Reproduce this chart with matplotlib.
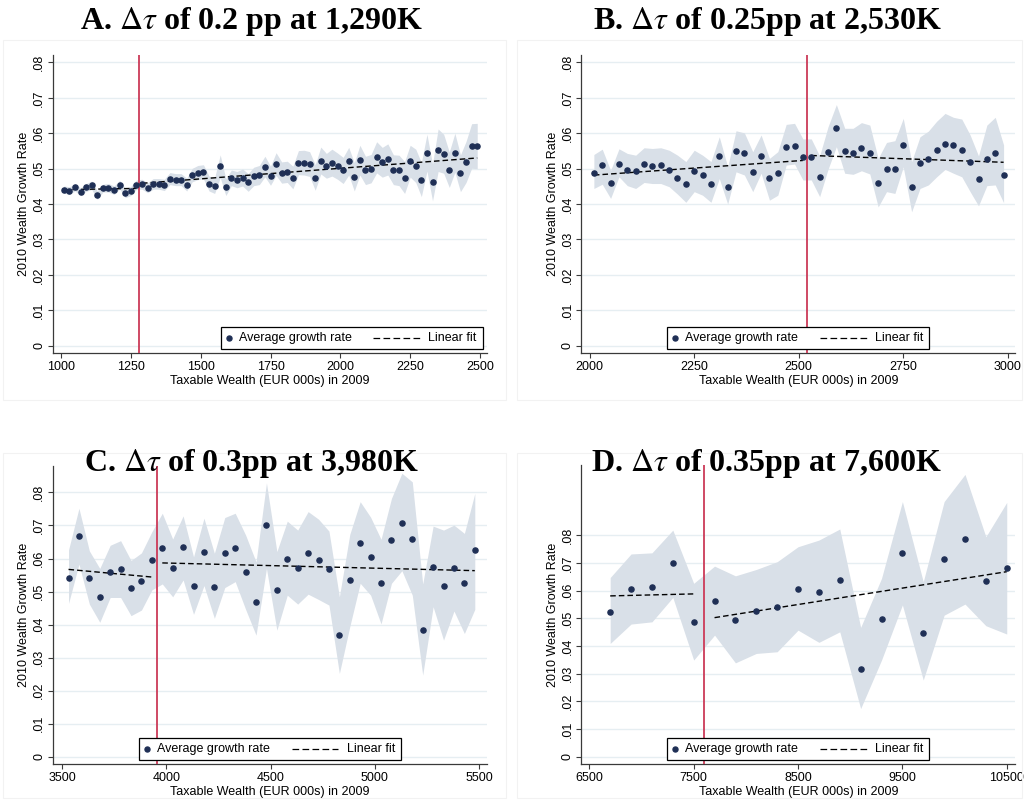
import numpy as np
import matplotlib
matplotlib.use('Agg')
import matplotlib.pyplot as plt
from matplotlib.offsetbox import AnchoredOffsetbox, HPacker, DrawingArea, TextArea
from matplotlib.lines import Line2D
from matplotlib.patches import Rectangle

plt.rcParams['font.family'] = ['Liberation Sans', 'DejaVu Sans']
plt.rcParams['mathtext.fontset'] = 'stix'
plt.rcParams['lines.scale_dashes'] = False

# ---------------- data ----------------
titles = [r'A. $\Delta\tau$ of 0.2 pp at 1,290K',
          r'B. $\Delta\tau$ of 0.25pp at 2,530K',
          r'C. $\Delta\tau$ of 0.3pp at 3,980K',
          r'D. $\Delta\tau$ of 0.35pp at 7,600K']
x_label = 'Taxable Wealth (EUR 000s) in 2009'
y_label = '2010 Wealth Growth Rate'
y_ticks = [0, .01, .02, .03, .04, .05, .06, .07, .08]
y_tick_labels = ['0', '.01', '.02', '.03', '.04', '.05', '.06', '.07', '.08']
legend_labels = ['Average growth rate', 'Linear fit']

# Panel A
A_x = np.arange(1010, 2491, 20)
A_y = [.0441, .0438, .0447, .0435, .0447, .0453, .0425, .0445, .0446, .0439,
       .0455, .0431, .0437, .0455, .0456, .0446, .0457, .0457, .0454, .0472,
       .0469, .0469, .0455, .0482, .0489, .0491, .0458, .0452, .0507, .0448,
       .0474, .0469, .0475, .0461, .0478, .0482, .0506, .0480, .0513, .0489,
       .0491, .0475, .0517, .0517, .0513, .0475, .0523, .0508, .0517, .0507,
       .0495, .0521, .0477, .0524, .0495, .0500, .0532, .0518, .0526, .0497,
       .0495, .0475, .0521, .0508, .0469, .0545, .0461, .0552, .0542, .0497,
       .0545, .0487, .0519, .0564, .0564]
A_ci_half = [.0010, .0011, .0010, .0011, .0011, .0012, .0012, .0011, .0012, .0012,
             .0012, .0013, .0013, .0013, .0014, .0014, .0015, .0015, .0016, .0017,
             .0017, .0017, .0018, .0019, .0020, .0020, .0021, .0022, .0032, .0024,
             .0022, .0023, .0024, .0025, .0026, .0027, .0029, .0027, .0032, .0030,
             .0030, .0032, .0034, .0035, .0035, .0036, .0038, .0035, .0038, .0037,
             .0037, .0039, .0040, .0042, .0040, .0040, .0044, .0042, .0044, .0042,
             .0043, .0045, .0045, .0047, .0048, .0052, .0052, .0060, .0055, .0050,
             .0055, .0052, .0058, .0063, .0064]
A_cut = 1280
A_xticks = [1000, 1250, 1500, 1750, 2000, 2250, 2500]

# Panel B
B_x = np.arange(2010, 2991, 20)
B_y = [.0487, .0509, .0460, .0512, .0495, .0492, .0512, .0507, .0509, .0495,
       .0475, .0457, .0492, .0482, .0457, .0536, .0447, .0549, .0543, .0491,
       .0537, .0473, .0489, .0560, .0564, .0534, .0534, .0476, .0548, .0614,
       .0549, .0545, .0557, .0543, .0459, .0500, .0499, .0566, .0447, .0517,
       .0526, .0552, .0569, .0566, .0554, .0518, .0471, .0527, .0544, .0481]
B_lo = [.0444, .0456, .0416, .0477, .0452, .0444, .0461, .0458, .0458, .0449,
        .0428, .0405, .0435, .0425, .0405, .0472, .0400, .0491, .0482, .0435,
        .0487, .0411, .0425, .0510, .0513, .0468, .0468, .0421, .0498, .0562,
        .0487, .0484, .0494, .0485, .0392, .0435, .0430, .0505, .0378, .0444,
        .0454, .0477, .0498, .0487, .0477, .0435, .0395, .0452, .0454, .0404]
B_hi = [.0540, .0555, .0495, .0556, .0543, .0538, .0559, .0557, .0559, .0552,
        .0538, .0520, .0552, .0538, .0520, .0590, .0505, .0607, .0601, .0548,
        .0595, .0529, .0548, .0625, .0628, .0584, .0584, .0536, .0618, .0681,
        .0614, .0614, .0630, .0623, .0529, .0574, .0579, .0642, .0520, .0590,
        .0606, .0634, .0656, .0645, .0640, .0595, .0536, .0623, .0645, .0567]
B_cut = 2520
B_xticks = [2000, 2250, 2500, 2750, 3000]

# Panel C
C_x = np.arange(3530, 5481, 50)
C_y = [.0542, .0669, .0540, .0483, .0560, .0568, .0510, .0531, .0596, .0632,
       .0570, .0634, .0518, .0620, .0515, .0617, .0633, .0559, .0468, .0700,
       .0504, .0600, .0572, .0617, .0596, .0569, .0367, .0535, .0647, .0605,
       .0527, .0655, .0708, .0660, .0383, .0574, .0517, .0571, .0525, .0625]
C_lo = [.0464, .0583, .0462, .0407, .0482, .0482, .0427, .0444, .0505, .0523,
        .0484, .0535, .0431, .0518, .0419, .0512, .0530, .0446, .0368, .0570,
        .0383, .0489, .0462, .0492, .0476, .0459, .0252, .0394, .0525, .0489,
        .0402, .0525, .0563, .0489, .0247, .0454, .0353, .0441, .0373, .0446]
C_hi = [.0626, .0752, .0623, .0570, .0640, .0654, .0594, .0617, .0681, .0737,
        .0659, .0729, .0605, .0722, .0616, .0724, .0737, .0671, .0590, .0829,
        .0621, .0713, .0686, .0742, .0719, .0683, .0484, .0673, .0772, .0725,
        .0658, .0782, .0858, .0832, .0523, .0698, .0686, .0701, .0676, .0797]
C_cut = 3955
C_xticks = [3500, 4000, 4500, 5000, 5500]

# Panel D
D_x = np.arange(6700, 10501, 200)
D_y = [.0523, .0604, .0611, .0698, .0485, .0562, .0495, .0525, .0542, .0607,
       .0596, .0638, .0318, .0496, .0736, .0445, .0715, .0786, .0633, .0682]
D_lo = [.0409, .0479, .0487, .0575, .0349, .0439, .0339, .0373, .0379, .0457,
        .0413, .0451, .0174, .0349, .0548, .0277, .0511, .0551, .0473, .0443]
D_hi = [.0647, .0732, .0736, .0818, .0626, .0688, .0653, .0676, .0704, .0758,
        .0782, .0822, .0467, .0644, .0921, .0632, .0921, .1019, .0794, .0918]
D_cut = 7600
D_xticks = [6500, 7500, 8500, 9500, 10500]

# ---------------- styling ----------------
DOT = '#1f2f55'
BAND = '#d9e0e8'
GRID = '#e6eef2'
CUT = '#cc3a58'
SPINE = '#3a3a3a'

W, H = 1025, 801
fig = plt.figure(figsize=(W / 100, H / 100), dpi=100)


def px_axes(left, right, top, bottom):
    return fig.add_axes([left / W, 1 - bottom / H, (right - left) / W, (bottom - top) / H])


def add_legend(ax, loc, anchor):
    dot = DrawingArea(9.8, 10, 0, 0)
    dot.add_artist(Line2D([2.6], [5], marker='o', ms=3.6, color=DOT, ls='none'))
    t1 = TextArea(legend_labels[0], textprops=dict(size=9, color='black'))
    dash = DrawingArea(55.4, 10, 0, 0)
    dash.add_artist(Line2D([15.8, 49.4], [5, 5], color='black', lw=0.9, dashes=(4.8, 2.4)))
    t2 = TextArea(legend_labels[1], textprops=dict(size=9, color='black'))
    end = DrawingArea(1.4, 10, 0, 0)
    box = HPacker(children=[dot, t1, dash, t2, end], align='center', pad=0, sep=0)
    ab = AnchoredOffsetbox(loc=loc, child=box, pad=0.32, borderpad=0, frameon=True,
                           bbox_to_anchor=anchor, bbox_transform=ax.transAxes,
                           prop=dict(size=9))
    ab.patch.set_edgecolor('black')
    ab.patch.set_facecolor('white')
    ab.patch.set_linewidth(0.9)
    ab.set_zorder(6)
    ax.add_artist(ab)


def panel(rect, x, y, lo, hi, cut, xticks, xlim, ylim, title, title_pos,
          leg_loc, leg_anchor):
    ax = px_axes(*rect)
    x = np.asarray(x, float)
    y = np.asarray(y, float)
    ax.fill_between(x, lo, hi, color=BAND, lw=0, zorder=1)
    ax.axvline(cut, color=CUT, lw=1.3, zorder=3)
    for m in (x < cut, x > cut):
        b, a = np.polyfit(x[m], y[m], 1)
        xs = np.array([x[m].min(), x[m].max()])
        ax.plot(xs, a + b * xs, color='black', lw=1.0, dashes=(4.0, 2.2), zorder=4)
    ax.plot(x, y, 'o', ms=3.7, color=DOT, zorder=5)
    ax.set_xlim(*xlim)
    ax.set_ylim(*ylim)
    ax.set_xticks(xticks)
    ax.set_xticklabels([str(t) for t in xticks])
    ax.set_yticks(y_ticks)
    ax.set_yticklabels(y_tick_labels, rotation=90, va='center')
    ax.yaxis.grid(True, color=GRID, lw=1.0, zorder=0)
    ax.set_axisbelow(True)
    for s in ('top', 'right'):
        ax.spines[s].set_visible(False)
    for s in ('left', 'bottom'):
        ax.spines[s].set_color(SPINE)
        ax.spines[s].set_linewidth(0.9)
    ax.tick_params(direction='out', length=3.5, width=0.8, color=SPINE,
                   labelsize=9, pad=2)
    ax.set_xlabel(x_label, fontsize=9, labelpad=1.5)
    ax.set_ylabel(y_label, fontsize=9, labelpad=2)
    fig.text(title_pos[0] / W, 1 - title_pos[1] / H, title, family='Liberation Serif',
             weight='bold', size=23, ha='center', va='center')
    add_legend(ax, leg_loc, leg_anchor)
    return ax


A_lo = np.asarray(A_y) - np.asarray(A_ci_half)
A_hi = np.asarray(A_y) + np.asarray(A_ci_half)

panel((52.7, 487, 55, 353.3), A_x, A_y, A_lo, A_hi, A_cut, A_xticks,
      (970.3, 2525), (-0.00215, 0.0821), titles[0], (251.5, 22),
      'lower right', (0.990, 0.0144))
panel((581.3, 1015.3, 55, 353.3), B_x, B_y, B_lo, B_hi, B_cut, B_xticks,
      (1979.9, 3018), (-0.00215, 0.0821), titles[1], (768, 22),
      'lower center', (0.5, 0.0144))
panel((52.7, 487.3, 466, 764), C_x, C_y, C_lo, C_hi, C_cut, C_xticks,
      (3454, 5540), (-0.0022, 0.088), titles[2], (251, 464),
      'lower center', (0.5, 0.0134))
panel((581.3, 1015.3, 465, 764), D_x, D_y, D_lo, D_hi, D_cut, D_xticks,
      (6423, 10582), (-0.0026, 0.1053), titles[3], (766.5, 464),
      'lower center', (0.5, 0.0134))

# faint panel frames
for (l, t, r, b) in [(3, 40, 506, 400), (517, 40, 1022, 400),
                     (3, 453, 506, 798), (517, 453, 1022, 798)]:
    fig.patches.append(Rectangle((l / W, 1 - b / H), (r - l) / W, (b - t) / H,
                                 transform=fig.transFigure, fill=False,
                                 edgecolor='#f2f2f2', lw=0.8))

fig.savefig('out.png', dpi=100)
